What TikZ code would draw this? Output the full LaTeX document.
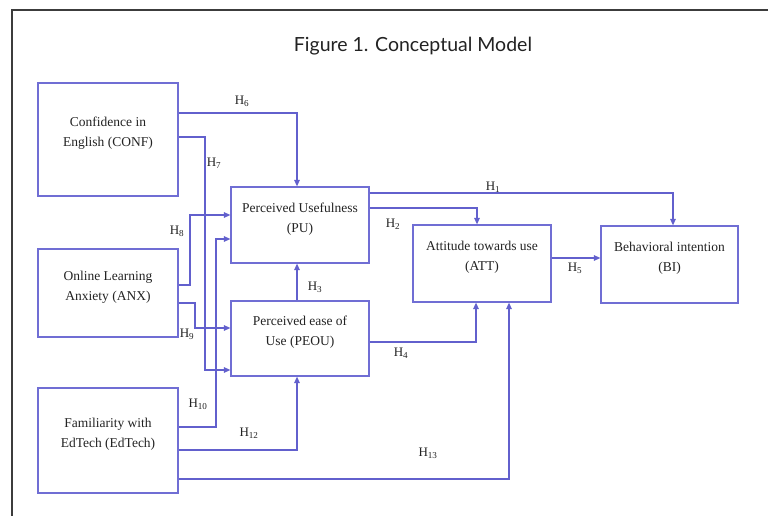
\documentclass[tikz,border=0pt]{standalone}
\usepackage{fontspec}
\setmainfont{Liberation Serif}
\newfontfamily\titlefont{Lato}
\usetikzlibrary{arrows.meta}
\definecolor{lineblue}{RGB}{98,96,205}
\definecolor{boxblue}{RGB}{112,110,212}
\definecolor{framegray}{RGB}{60,60,60}
\definecolor{txtgray}{RGB}{35,35,35}
\tikzset{
  box/.style={draw=boxblue, line width=1.2pt, rectangle, inner sep=0pt},
  boxtext/.style={align=center, font=\fontsize{13.5}{20}\selectfont, text=txtgray, inner sep=0pt},
  conn/.style={draw=lineblue, line width=1.2pt, -{Triangle[length=6.5pt,width=5.5pt]}},
  hlab/.style={font=\fontsize{13}{14}\selectfont, text=txtgray, inner sep=0pt},
}
\begin{document}
\begin{tikzpicture}[x=1pt,y=-1pt]
\useasboundingbox (0,0) rectangle (768,516);
\fill[white] (0,0) rectangle (768,516);
\draw[framegray, line width=1.5pt] (12,516) -- (12,10) -- (768,10);
\node[font=\titlefont\fontsize{19.5}{22}\selectfont, text=txtgray] (title) at (413,46) {Figure 1. Conceptual Model};

% boxes
\node[box, minimum width=140pt, minimum height=113pt] (conf) at (108,139.5) {};
\node[box, minimum width=140pt, minimum height=88pt] (anx) at (108,293) {};
\node[box, minimum width=140pt, minimum height=105pt] (edtech) at (108,440.5) {};
\node[box, minimum width=138pt, minimum height=76pt] (pu) at (300,225) {};
\node[box, minimum width=138pt, minimum height=75pt] (peou) at (300,338.5) {};
\node[box, minimum width=138pt, minimum height=77pt] (att) at (482,263.5) {};
\node[box, minimum width=137pt, minimum height=77pt] (bi) at (669.5,264.5) {};

\node[boxtext] (conf-t) at (108,133) {Confidence in\\English (CONF)};
\node[boxtext] (anx-t) at (108,287) {Online Learning\\Anxiety (ANX)};
\node[boxtext] (edtech-t) at (108,434.5) {Familiarity with\\EdTech (EdTech)};
\node[boxtext] (pu-t) at (300,219) {Perceived Usefulness\\(PU)};
\node[boxtext] (peou-t) at (300,332) {Perceived ease of\\Use (PEOU)};
\node[boxtext] (att-t) at (482,257.5) {Attitude towards use\\(ATT)};
\node[boxtext] (bi-t) at (669.5,258.5) {Behavioral intention\\(BI)};

% connectors
\draw[conn] (conf.east |- 0,113) -| (297,0 |- pu.north);
\draw[conn] (conf.east |- 0,137) -| (205,370) -- (peou.west |- 0,370);
\draw[conn] (anx.east |- 0,285) -| (190,215) -- (pu.west |- 0,215);
\draw[conn] (anx.east |- 0,303) -| (195,328) -- (peou.west |- 0,328);
\draw[conn] (edtech.east |- 0,427) -| (216,239) -- (pu.west |- 0,239);
\draw[conn] (edtech.east |- 0,450) -| (297,0 |- peou.south);
\draw[conn] (edtech.east |- 0,479) -| (509,0 |- att.south);
\draw[conn] (peou.east |- 0,342) -| (476,0 |- att.south);
\draw[conn] (297,0 |- peou.north) -- (297,0 |- pu.south);
\draw[conn] (pu.east |- 0,208) -| (477,0 |- att.north);
\draw[conn] (pu.east |- 0,193) -| (673,0 |- bi.north);
\draw[conn] (att.east |- 0,258) -- (bi.west |- 0,258);

% labels
\node[hlab] (l1) at (493,187) {H\textsubscript{1}};
\node[hlab] (l2) at (393,224) {H\textsubscript{2}};
\node[hlab] (l3) at (315,287) {H\textsubscript{3}};
\node[hlab] (l4) at (401,353) {H\textsubscript{4}};
\node[hlab] (l5) at (575,268) {H\textsubscript{5}};
\node[hlab] (l6) at (242,101) {H\textsubscript{6}};
\node[hlab] (l7) at (214,163) {H\textsubscript{7}};
\node[hlab] (l8) at (177,231) {H\textsubscript{8}};
\node[hlab] (l9) at (187,334) {H\textsubscript{9}};
\node[hlab] (l10) at (198,404) {H\textsubscript{10}};
\node[hlab] (l12) at (249,433) {H\textsubscript{12}};
\node[hlab] (l13) at (428,453) {H\textsubscript{13}};
\end{tikzpicture}
\end{document}
